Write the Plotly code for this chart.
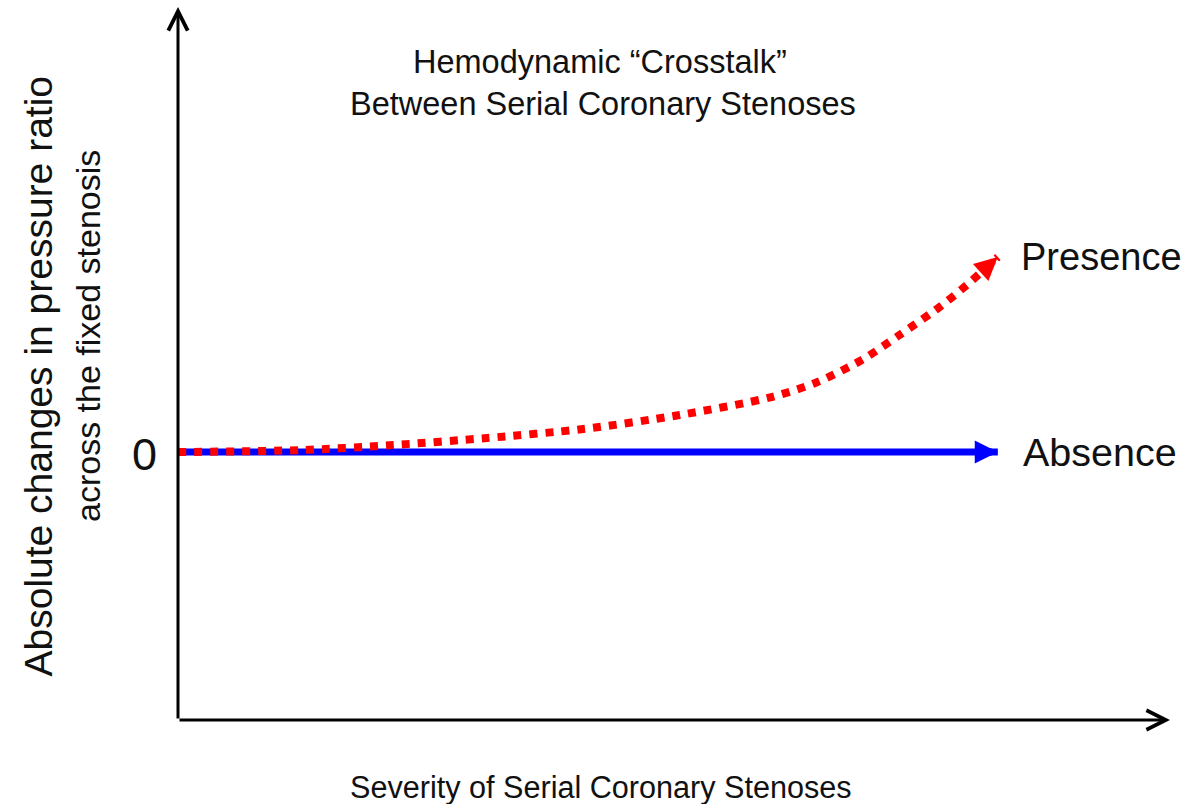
import plotly.graph_objects as go

# Conceptual curves: severity of serial stenoses (x) vs change in pressure ratio (y)
severity = [0.0, 0.149, 0.262, 0.377, 0.494, 0.612, 0.724, 0.780, 0.834, 0.880, 0.929, 0.962, 1.0]
presence = [0.0, 0.010, 0.036, 0.072, 0.118, 0.190, 0.282, 0.359, 0.472, 0.600, 0.744, 0.856, 1.0]
absence_x = [0.0, 1.0]
absence_y = [0.0, 0.0]

series_labels = ["Presence", "Absence"]
zero_label = "0"
title_lines = ["Hemodynamic \u201cCrosstalk\u201d", "Between Serial Coronary Stenoses"]
x_title = "Severity of Serial Coronary Stenoses"
y_title_lines = ["Absolute changes in pressure ratio", "across the fixed stenosis"]

W, H = 1198, 804
M = dict(l=178, r=28, t=7, b=84, pad=0)
X_RANGE = [0, 1.21]
Y_RANGE = [-1.374, 2.282]
PLOT_W = W - M["l"] - M["r"]
PLOT_H = H - M["t"] - M["b"]
SX = PLOT_W / (X_RANGE[1] - X_RANGE[0])
SY = PLOT_H / (Y_RANGE[1] - Y_RANGE[0])

FONT = "Liberation Sans, Arial, Helvetica, sans-serif"
INK = "#111111"
RED = "#ff0000"
BLUE = "#0000ff"


def arrow_head(xs, ys, color, length=14):
    """Arrowhead at the last point of a series, oriented along its last segment."""
    dx = (xs[-1] - xs[-2]) * SX
    dy = -(ys[-1] - ys[-2]) * SY
    n = (dx * dx + dy * dy) ** 0.5
    return dict(
        x=xs[-1], y=ys[-1], xref="x", yref="y",
        ax=-dx / n * length, ay=-dy / n * length, axref="pixel", ayref="pixel",
        text="", showarrow=True, arrowhead=2, arrowwidth=7, arrowsize=0.66,
        arrowcolor=color,
    )


def text_ann(text, x, y, size, **kw):
    d = dict(text=text, x=x, y=y, showarrow=False,
             font=dict(family=FONT, size=size, color=INK))
    d.update(kw)
    return d


fig = go.Figure()

fig.add_trace(go.Scatter(
    x=absence_x, y=absence_y, mode="lines",
    line=dict(color=BLUE, width=7), hoverinfo="skip",
))
fig.add_trace(go.Scatter(
    x=severity, y=presence, mode="lines",
    line=dict(color=RED, width=8, dash="8px,8px", shape="spline", smoothing=0.8),
    hoverinfo="skip",
))

annotations = [
    # vertical axis with open arrowhead
    dict(x=0, y=1, xref="paper", yref="paper", ax=0, ay=PLOT_H, axref="pixel", ayref="pixel",
         text="", showarrow=True, arrowhead=5, arrowwidth=3, arrowsize=1.27, arrowcolor="#000"),
    # horizontal axis with open arrowhead
    dict(x=1, y=0, xref="paper", yref="paper", ax=-PLOT_W, ay=0, axref="pixel", ayref="pixel",
         text="", showarrow=True, arrowhead=5, arrowwidth=3, arrowsize=1.27, arrowcolor="#000"),
    arrow_head(absence_x, absence_y, BLUE),
    arrow_head(severity, presence, RED),
    text_ann(series_labels[0], severity[-1], presence[-1], 38, xref="x", yref="y",
             xanchor="left", yanchor="middle", xshift=21),
    text_ann(series_labels[1], absence_x[-1], absence_y[-1], 39.5, xref="x", yref="y",
             xanchor="left", yanchor="middle", xshift=23),
    text_ann(zero_label, 0, 0, 45, xref="x", yref="y",
             xanchor="right", yanchor="middle", xshift=-19, yshift=-2),
    text_ann(title_lines[0], 0.4254, 0.9229, 32.5, xref="paper", yref="paper",
             xanchor="center", yanchor="middle"),
    text_ann(title_lines[1], 0.4284, 0.864, 32.5, xref="paper", yref="paper",
             xanchor="center", yanchor="middle"),
    text_ann(x_title, 0.4264, -0.094, 30.6, xref="paper", yref="paper",
             xanchor="center", yanchor="middle"),
    text_ann(y_title_lines[0], -0.1411, 0.4818, 39, xref="paper", yref="paper",
             xanchor="center", yanchor="middle", textangle=-90),
    text_ann(y_title_lines[1], -0.0907, 0.5386, 34, xref="paper", yref="paper",
             xanchor="center", yanchor="middle", textangle=-90),
]

fig.update_layout(
    width=W, height=H, margin=M,
    paper_bgcolor="white", plot_bgcolor="white",
    showlegend=False,
    xaxis=dict(range=X_RANGE, visible=False, fixedrange=True),
    yaxis=dict(range=Y_RANGE, visible=False, fixedrange=True),
    annotations=annotations,
)

fig.write_html("out.html", config={"displayModeBar": False})
